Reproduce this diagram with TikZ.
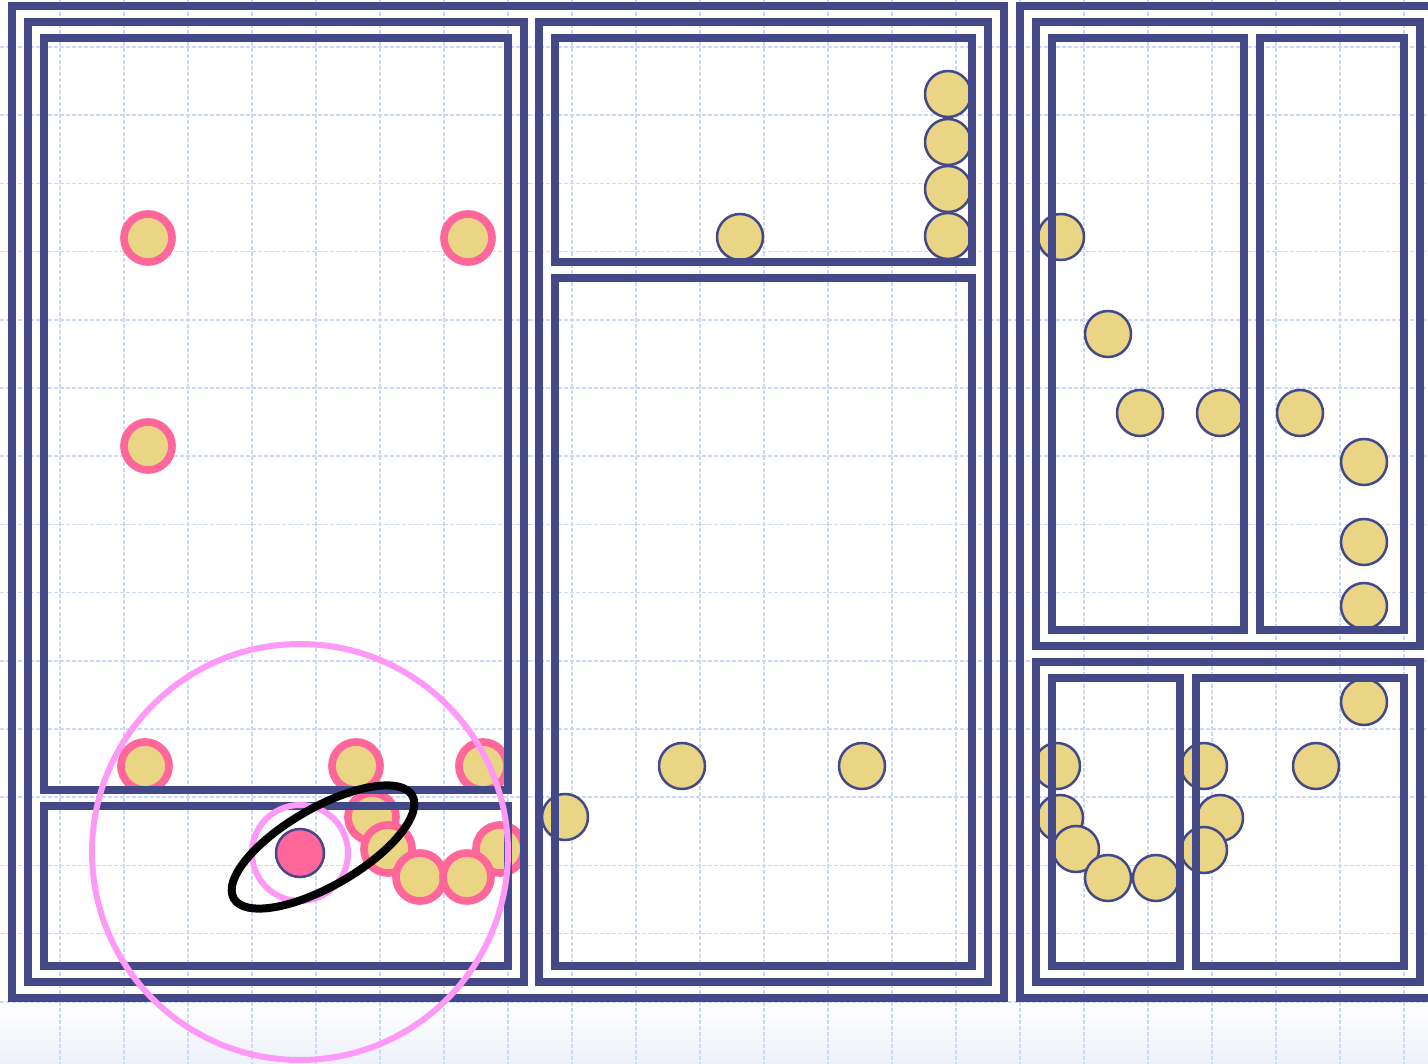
\documentclass[tikz,border=0pt]{standalone}
\usetikzlibrary{shapes.geometric}
\definecolor{navy}{HTML}{434889}
\definecolor{sand}{HTML}{E9D584}
\definecolor{rose}{HTML}{FF6699}
\definecolor{lilac}{HTML}{FF99F7}
\definecolor{gridc}{HTML}{CCD8FA}
\definecolor{fade}{HTML}{EEF1FA}
\begin{document}
\begin{tikzpicture}[x=1pt,y=-1pt,
  frame/.style={draw=navy,line width=8pt},
  dot/.style={circle,draw=navy,line width=2.5pt,fill=sand,minimum size=46pt,inner sep=0pt,outer sep=0pt},
  ring/.style={circle,draw=rose,line width=7.7pt,fill=sand,minimum size=48pt,inner sep=0pt,outer sep=0pt},
  gridline/.style={draw=gridc,line width=1.5pt,dash pattern=on 4pt off 2pt}]
\useasboundingbox (0,0) rectangle (1428,1064);
\fill[white] (0,0) rectangle (1428,1064);
\shade[top color=white,bottom color=fade] (0,1002) rectangle (1428,1064);
% grid
\foreach \x in {-4,60,...,1420} \draw[gridline] (\x,0) -- (\x,1064);
\foreach \k in {0,...,14} \draw[gridline] (0,{47+68.2*\k}) -- (1428,{47+68.2*\k});
% left panel rings
\node[ring] (p1) at (148,238) {};
\node[ring] (p2) at (468,238) {};
\node[ring] (p3) at (148,446) {};
\node[ring] (p4) at (145,766) {};
\node[ring] (p5) at (356,766) {};
\node[ring] (p6) at (483,766) {};
\node[ring] (p7) at (372,817) {};
\node[ring] (p8) at (388,849) {};
\node[ring] (p11) at (500,849) {};
\node[ring] (p9) at (420,877) {};
\node[ring] (p10) at (467,877) {};
% middle dots
\node[dot] (m1) at (948,94) {};
\node[dot] (m2) at (948,142) {};
\node[dot] (m3) at (948,189) {};
\node[dot] (m4) at (948,236) {};
\node[dot] (m5) at (740,237) {};
\node[dot] (m6) at (682,766) {};
\node[dot] (m7) at (862,766) {};
\node[dot] (m8) at (565,817) {};
% right top dots
\node[dot] (r1) at (1061,237) {};
\node[dot] (r2) at (1108,334) {};
\node[dot] (r3) at (1140,413) {};
\node[dot] (r4) at (1220,413) {};
\node[dot] (r5) at (1300,413) {};
\node[dot] (r6) at (1364,462) {};
\node[dot] (r7) at (1364,542) {};
\node[dot] (r8) at (1364,606) {};
% right bottom dots
\node[dot] (b1) at (1364,702) {};
\node[dot] (b2) at (1316,766) {};
\node[dot] (b3) at (1204,766) {};
\node[dot] (b4) at (1220,818) {};
\node[dot] (b5) at (1204,850) {};
\node[dot] (b6) at (1057,766) {};
\node[dot] (b7) at (1060,818) {};
\node[dot] (b8) at (1076,849) {};
\node[dot] (b9) at (1108,878) {};
\node[dot] (b10) at (1156,878) {};
% frames
\draw[frame] (12,6) rectangle (1004,998);
\draw[frame] (28,22) rectangle (524,982);
\draw[frame] (44,38) rectangle (508,790);
\draw[frame] (44,806) rectangle (508,966);
\draw[frame] (539,22) rectangle (988,982);
\draw[frame] (555,38) rectangle (972,262);
\draw[frame] (555,278) rectangle (972,966);
\draw[frame] (1020,6) rectangle (1440,998);
\draw[frame] (1036,22) rectangle (1420,646);
\draw[frame] (1052,38) rectangle (1244,630);
\draw[frame] (1260,38) rectangle (1404,630);
\draw[frame] (1036,662) rectangle (1420,982);
\draw[frame] (1052,678) rectangle (1180,966);
\draw[frame] (1196,678) rectangle (1404,966);
% overlay
\node[circle,draw=lilac,line width=6pt,minimum size=416pt,inner sep=0pt] (reach) at (300,852) {};
\node[circle,draw=lilac,line width=6pt,minimum size=96pt,inner sep=0pt] (halo) at (300,853) {};
\node[circle,draw=navy,line width=2.5pt,fill=rose,minimum size=48pt,inner sep=0pt] (agent) at (300,853) {};
\node[ellipse,draw=black,line width=8pt,rotate=30,minimum width=206pt,minimum height=78pt,inner sep=0pt] (loop) at (323,847) {};
\end{tikzpicture}
\end{document}
